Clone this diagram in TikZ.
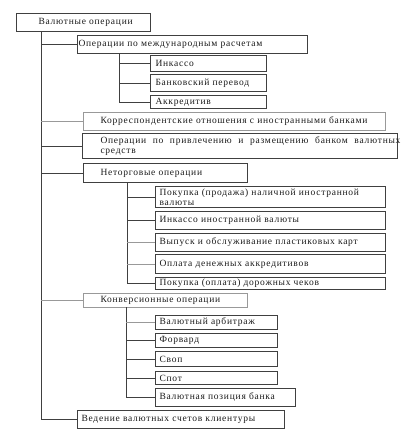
\documentclass[tikz,border=0pt]{standalone}
\usepackage{fontspec}
\setmainfont{Liberation Serif}[LetterSpace=8]
\newcommand\bt[3]{\makebox[#1pt][l]{\hspace*{#2pt}#3}}
\tikzset{
  box/.style={draw=black!75, line width=1pt, anchor=north west, inner sep=0pt,
    text=black!90, font=\fontsize{9.5pt}{10pt}\selectfont},
  conn/.style={draw=black!75, line width=1pt},
  lite/.style={draw=black!40},
}
\begin{document}
\begin{tikzpicture}[x=1pt,y=-1pt]
\useasboundingbox (0,0) rectangle (411,439);
% level 0
\node[box, minimum width=134pt, minimum height=18pt] (root) at (16,13) {\bt{134}{22}{Валютные операции}};
% level 1
\node[box, minimum width=230pt, minimum height=18pt] (intl) at (77,35) {\bt{230}{1}{Операции по международным расчетам}};
\node[box, lite, minimum width=302pt, minimum height=18pt] (korr) at (83,112) {\bt{302}{17}{Корреспондентские отношения с иностранными банками}};
\node[box, minimum width=315pt, minimum height=25pt] (privl) at (82,133) {\bt{315}{18}{\parbox{300pt}{\makebox[300pt][s]{Операции по привлечению и размещению банком валютных}\\средств}}};
\node[box, minimum width=164pt, minimum height=19pt] (netorg) at (83,163) {\bt{164}{17}{Неторговые операции}};
\node[box, lite, minimum width=164pt, minimum height=14pt] (konv) at (83,293) {\bt{164}{17}{Конверсионные операции}};
\node[box, minimum width=207pt, minimum height=18pt] (ved) at (77,410) {\bt{207}{4}{Ведение валютных счетов клиентуры}};
% level 2: international
\node[box, minimum width=116pt, minimum height=16pt] (inkasso) at (150,55) {\bt{116}{5}{Инкассо}};
\node[box, minimum width=116pt, minimum height=17pt] (bank) at (150,74) {\bt{116}{5}{Банковский перевод}};
\node[box, minimum width=116pt, minimum height=13pt] (akkr) at (150,95) {\bt{116}{5}{Аккредитив}};
% level 2: non-trade
\node[box, minimum width=230pt, minimum height=21pt] (pokupka) at (155,186) {\bt{230}{4}{\parbox{215pt}{Покупка (продажа) наличной иностранной\\валюты}}};
\node[box, minimum width=230pt, minimum height=18pt] (inkin) at (155,211) {\bt{230}{4}{Инкассо иностранной валюты}};
\node[box, minimum width=230pt, minimum height=18pt] (vypusk) at (155,233) {\bt{230}{4}{Выпуск и обслуживание пластиковых карт}};
\node[box, minimum width=230pt, minimum height=19pt] (oplata) at (155,254) {\bt{230}{4}{Оплата денежных аккредитивов}};
\node[box, minimum width=230pt, minimum height=12pt] (pokopl) at (155,277) {\bt{230}{4}{Покупка (оплата) дорожных чеков}};
% level 2: conversion
\node[box, minimum width=122pt, minimum height=14pt] (arb) at (155,315) {\bt{122}{4}{Валютный арбитраж}};
\node[box, minimum width=122pt, minimum height=14pt] (forw) at (155,333) {\bt{122}{4}{Форвард}};
\node[box, minimum width=122pt, minimum height=15pt] (swap) at (155,351) {\bt{122}{4}{Своп}};
\node[box, minimum width=122pt, minimum height=13pt] (spot) at (155,371) {\bt{122}{4}{Спот}};
\node[box, minimum width=140pt, minimum height=18pt] (pos) at (155,388) {\bt{140}{4}{Валютная позиция банка}};
% trunks
\coordinate (t0) at (41,31);
\coordinate (t1) at (119,53);
\coordinate (t2) at (127,182);
\coordinate (t3) at (126,307);
\draw[conn] (t0) |- (ved.west);
\draw[conn] (intl.west -| t0) -- (intl.west);
\draw[conn, lite] (korr.west -| t0) -- (korr.west);
\draw[conn] (privl.west -| t0) -- (privl.west);
\draw[conn] (netorg.west -| t0) -- (netorg.west);
\draw[conn, lite] (konv.west -| t0) -- (konv.west);
\draw[conn] (t1) |- (akkr.west);
\draw[conn] (inkasso.west -| t1) -- (inkasso.west);
\draw[conn] (bank.west -| t1) -- (bank.west);
\draw[conn] (t2) |- (pokopl.west);
\draw[conn] (pokupka.west -| t2) -- (pokupka.west);
\draw[conn] (inkin.west -| t2) -- (inkin.west);
\draw[conn, lite] (vypusk.west -| t2) -- (vypusk.west);
\draw[conn, lite] (oplata.west -| t2) -- (oplata.west);
\draw[conn] (t3) |- (pos.west);
\draw[conn, lite] (arb.west -| t3) -- (arb.west);
\draw[conn] (forw.west -| t3) -- (forw.west);
\draw[conn] (swap.west -| t3) -- (swap.west);
\draw[conn] (spot.west -| t3) -- (spot.west);
\end{tikzpicture}
\end{document}
